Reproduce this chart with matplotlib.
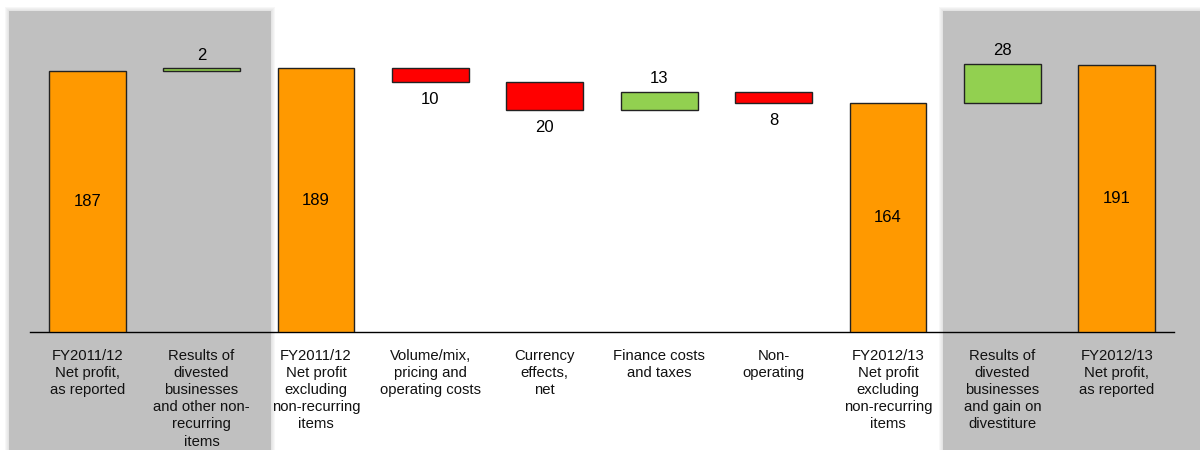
import matplotlib
matplotlib.use("Agg")
import matplotlib.pyplot as plt
from matplotlib.patches import Rectangle
from matplotlib.transforms import Affine2D

plt.rcParams["font.family"] = ["Liberation Sans", "DejaVu Sans"]

# Net profit bridge, FY2011/12 -> FY2012/13
categories = [
    "FY2011/12\nNet profit,\nas reported",
    "Results of\ndivested\nbusinesses\nand other non-\nrecurring\nitems",
    "FY2011/12\nNet profit\nexcluding\nnon-recurring\nitems",
    "Volume/mix,\npricing and\noperating costs",
    "Currency\neffects,\nnet",
    "Finance costs\nand taxes",
    "Non-\noperating",
    "FY2012/13\nNet profit\nexcluding\nnon-recurring\nitems",
    "Results of\ndivested\nbusinesses\nand gain on\ndivestiture",
    "FY2012/13\nNet profit,\nas reported",
]
values = [187, 2, 189, -10, -20, 13, -8, 164, 28, 191]
is_total = [True, False, True, False, False, False, False, True, False, True]

ORANGE = "#FF9900"
RED = "#FF0000"
GREEN = "#92D050"
PANEL = "#C0C0C0"

W, H = 1200, 450
fig = plt.figure(figsize=(W / 100, H / 100), dpi=100)
fig.patch.set_facecolor("white")

# shaded panels behind the outer columns, in pixel coordinates
px = Affine2D().scale(1.0 / W, 1.0 / H) + fig.transFigure


def panel(x0, x1, top):
    y0 = 0
    y1 = H - top
    for k in range(4, 0, -1):
        fig.patches.append(Rectangle((x0 - k, y0 - k), (x1 - x0) + 2 * k, (y1 - y0) + 2 * k,
                                     transform=px, facecolor=PANEL, edgecolor="none",
                                     alpha=0.12, zorder=0))
    fig.patches.append(Rectangle((x0, y0), x1 - x0, y1 - y0, transform=px,
                                 facecolor=PANEL, edgecolor="none", zorder=0))


panel(9, 271, 11)
panel(943, 1205, 11)

ax_left, ax_right = 30, 1174
ax_base, ax_top = 332, 12
ax = fig.add_axes([ax_left / W, (H - ax_base) / H,
                   (ax_right - ax_left) / W, (ax_base - ax_top) / H])
ax.set_zorder(2)
ax.patch.set_alpha(0)

px_per_unit = 261 / 187.0
ax.set_ylim(0, (ax_base - ax_top) / px_per_unit)
ax.set_xlim(-0.5, len(values) - 0.5)

running = 0
for i, (v, tot) in enumerate(zip(values, is_total)):
    if tot:
        bottom, height, color = 0, v, ORANGE
        running = v
    else:
        if v >= 0:
            bottom, height, color = running, v, GREEN
        else:
            bottom, height, color = running + v, -v, RED
        running += v
    ax.bar(i, height, bottom=bottom, width=0.67, color=color,
           edgecolor="#222222", linewidth=1.0, zorder=3)
    if tot:
        ax.text(i, v / 2, f"{v}", ha="center", va="center", fontsize=12, zorder=4)
    elif v >= 0:
        ax.annotate(f"{v}", (i, bottom + height), xytext=(0, 4), textcoords="offset points",
                    ha="center", va="bottom", fontsize=12, zorder=4)
    else:
        ax.annotate(f"{-v}", (i, bottom), xytext=(0, -7), textcoords="offset points",
                    ha="center", va="top", fontsize=12, zorder=4)

for s in ["top", "left", "right"]:
    ax.spines[s].set_visible(False)
ax.spines["bottom"].set_color("black")
ax.spines["bottom"].set_linewidth(1.0)
ax.set_yticks([])
ax.set_xticks(range(len(categories)))
ax.set_xticklabels(categories, fontsize=10.7, linespacing=1.29, color="#111111")
ax.tick_params(axis="x", length=0, pad=12)

fig.savefig("out.png", dpi=100)
